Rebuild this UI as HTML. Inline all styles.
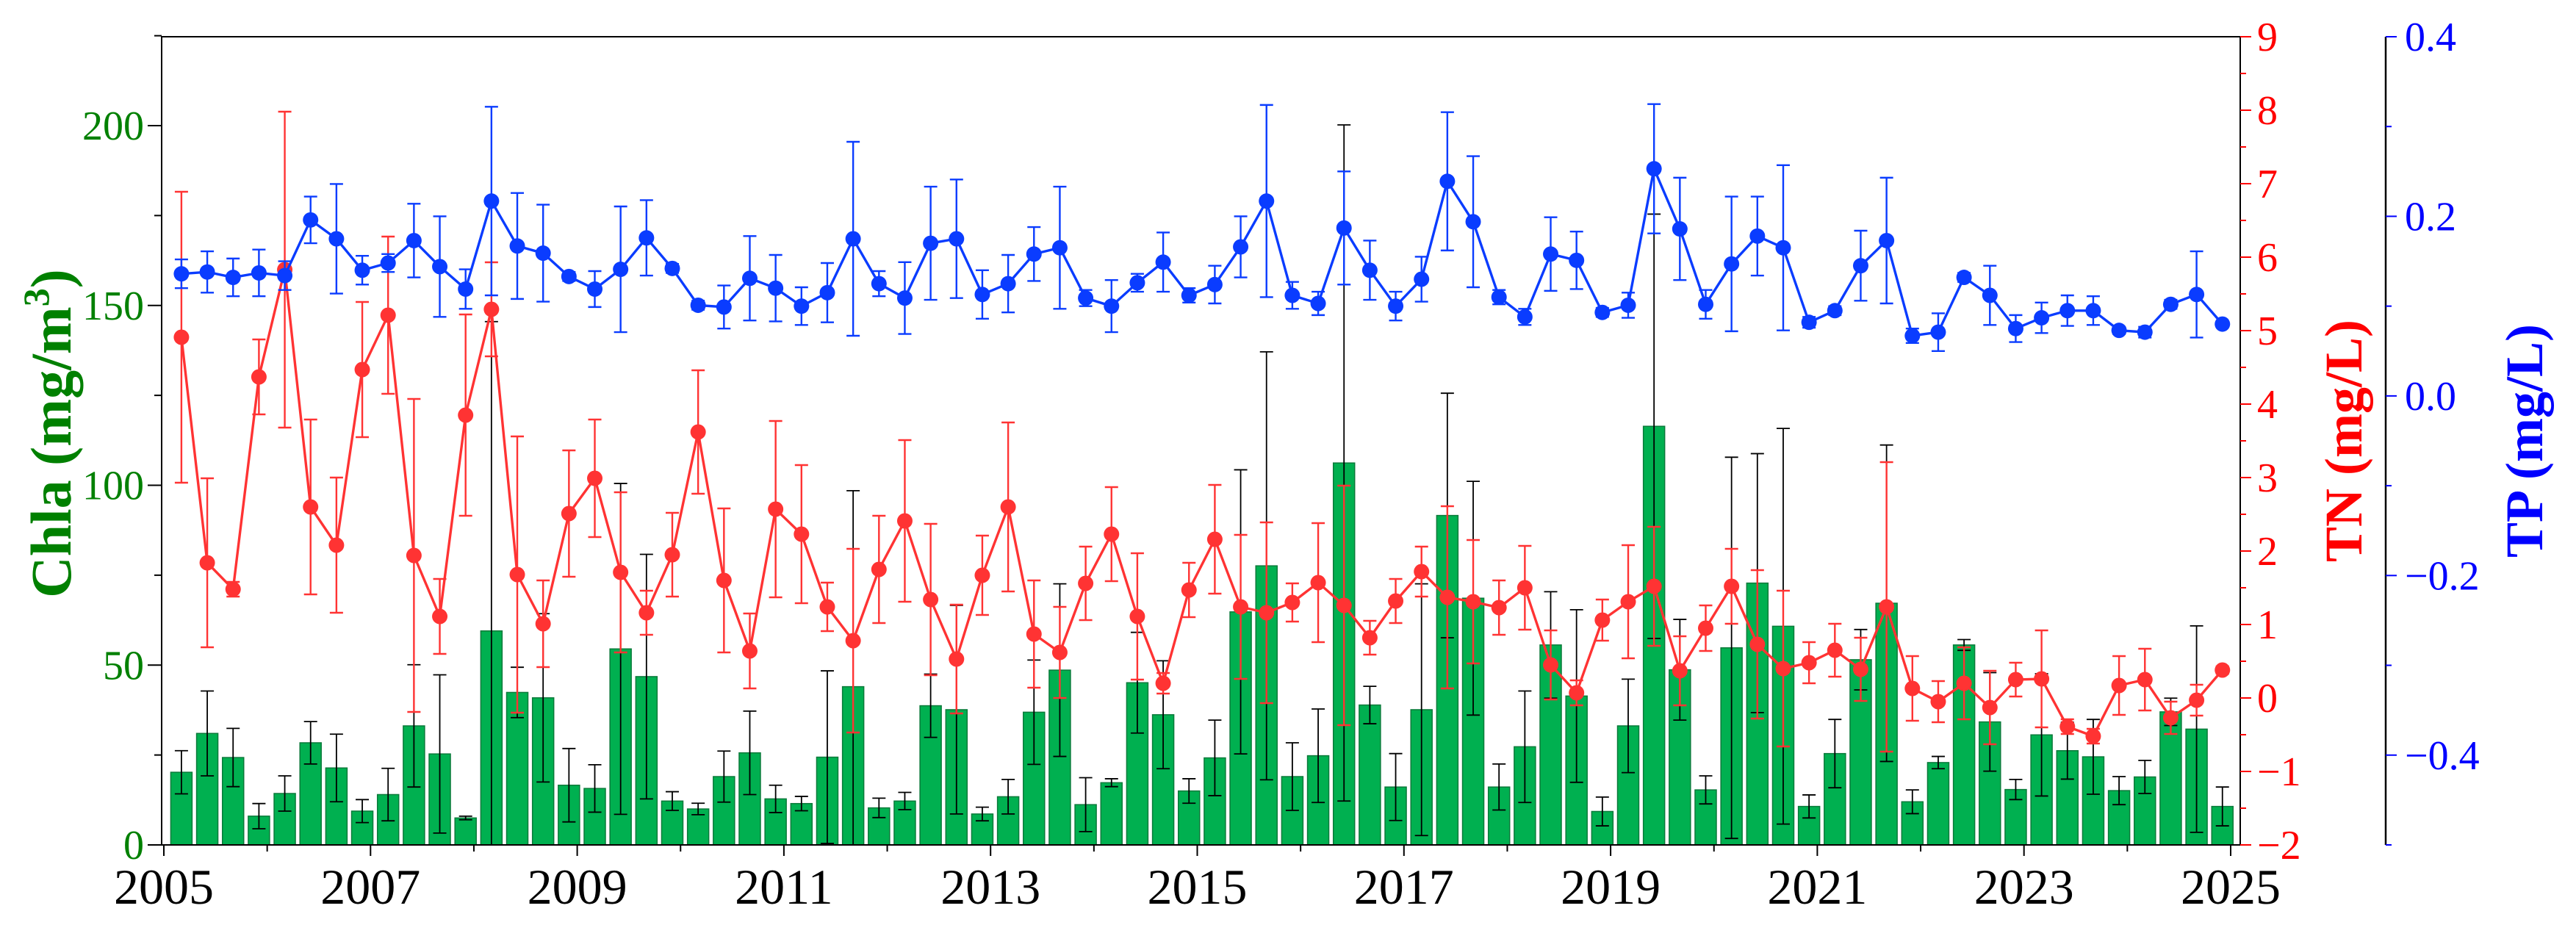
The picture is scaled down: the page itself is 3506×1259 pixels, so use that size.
<!DOCTYPE html>
<html><head><meta charset="utf-8"><style>
html,body{margin:0;padding:0;background:#fff;}
svg{display:block;font-family:"Liberation Serif",serif;}
</style></head>
<body>
<svg id="chart" xmlns="http://www.w3.org/2000/svg" width="3506" height="1259" viewBox="0 0 3506 1259">
<rect x="0" y="0" width="3506" height="1259" fill="#fff"/>
<g id="plot"></g>
<text transform="translate(96,590) rotate(-90)" text-anchor="middle" font-size="78" font-weight="bold" fill="#008000">Chla (mg/m<tspan font-size="50" dy="-30">3</tspan><tspan dy="30">)</tspan></text>
<text transform="translate(3214,600) rotate(-90)" text-anchor="middle" font-size="72" font-weight="bold" fill="#ff0000">TN (mg/L)</text>
<text transform="translate(3460,600) rotate(-90)" text-anchor="middle" font-size="72" font-weight="bold" fill="#0000ff">TP (mg/L)</text>
</svg>
<script>
const startYear = 2005.17;
const chla = [20.2,31,24.3,8,14.3,28.4,21.4,9.4,14,33.1,25.3,7.5,59.5,42.4,40.9,16.6,15.7,54.5,46.8,12.2,
10.0,19.0,25.6,12.8,11.5,24.4,44.0,10.3,12.2,38.7,37.6,8.6,13.4,36.9,48.6,11.2,17.3,45.1,36.2,15.0,
24.2,64.8,77.6,19.0,24.8,106.2,38.9,16.1,37.6,91.6,68.6,16.1,27.3,55.6,41.4,9.3,33.1,116.4,48.7,15.3,
54.8,72.8,60.8,10.7,25.4,51.5,67.2,12.0,22.9,55.6,34.2,15.4,30.6,26.2,24.5,15.1,18.9,37.0,32.2,10.7];
const chlaErr = [6,11.8,8.1,3.5,4.9,5.9,9.4,3.2,7.3,17,22,0.5,86,7,23.4,10.2,6.6,46,34,2.6,
1.6,7.1,11.6,3.8,2,24,54.5,2.7,2.4,8.8,29,1.9,4.8,14.5,24,7.5,1.1,14,15,3.4,
10.5,39.5,59.5,9.4,13,94,5.2,9.3,35,34,32.5,6.4,15.5,14.8,24,4,13,59,14,3.9,
53,36,55,3.2,9.5,8.4,44,3.3,1.7,1.5,13.7,2.8,17,7.9,10.4,3.9,4.6,3.8,28.7,5.4];
const tn = [4.91,1.84,1.48,4.37,5.83,2.6,2.08,4.47,5.21,1.94,1.11,3.85,5.29,1.68,1.01,2.51,2.99,1.71,1.16,1.95,
3.62,1.60,0.64,2.57,2.23,1.24,0.78,1.75,2.41,1.34,0.53,1.67,2.60,0.87,0.62,1.56,2.23,1.11,0.20,1.47,
2.16,1.24,1.16,1.30,1.57,1.26,0.82,1.32,1.72,1.37,1.31,1.23,1.50,0.45,0.07,1.06,1.31,1.52,0.37,0.95,
1.52,0.73,0.40,0.48,0.65,0.39,1.24,0.13,-0.05,0.20,-0.13,0.25,0.26,-0.39,-0.52,0.17,0.25,-0.27,-0.03,0.38];
const tnErr = [1.98,1.15,0.1,0.51,2.15,1.19,0.92,0.92,1.07,2.13,0.51,1.37,0.64,1.88,0.59,0.86,0.8,1.09,0.3,0.57,
0.84,0.98,0.51,1.2,0.94,0.33,1.25,0.73,1.1,1.03,0.74,0.54,1.15,0.73,0.62,0.5,0.64,0.86,0.14,0.37,
0.74,0.98,1.23,0.26,0.81,1.63,0.23,0.3,0.34,1.24,0.84,0.37,0.57,0.47,0.17,0.28,0.77,0.81,0.47,0.31,
0.51,1.01,1.06,0.28,0.36,0.43,1.97,0.44,0.28,0.49,0.5,0.23,0.66,0.1,0.1,0.4,0.42,0.22,0.21,0.05];
const tp = [0.136,0.138,0.132,0.137,0.134,0.196,0.175,0.140,0.148,0.173,0.144,0.119,0.217,0.167,0.159,0.133,0.119,0.141,0.176,0.142,
0.101,0.099,0.131,0.120,0.100,0.115,0.175,0.125,0.109,0.170,0.175,0.113,0.125,0.158,0.165,0.109,0.100,0.126,0.149,0.112,
0.124,0.166,0.217,0.112,0.103,0.187,0.140,0.100,0.130,0.239,0.194,0.110,0.088,0.158,0.151,0.093,0.101,0.253,0.186,0.102,
0.147,0.178,0.165,0.082,0.095,0.145,0.173,0.067,0.071,0.132,0.112,0.075,0.087,0.095,0.095,0.073,0.071,0.102,0.113,0.080];
const tpErr = [0.016,0.023,0.021,0.026,0.016,0.026,0.061,0.016,0.01,0.041,0.056,0.022,0.105,0.059,0.054,0.005,0.02,0.07,0.042,0.005,
0.005,0.024,0.047,0.037,0.021,0.033,0.108,0.014,0.04,0.063,0.066,0.027,0.032,0.03,0.068,0.009,0.029,0.01,0.033,0.008,
0.021,0.034,0.107,0.015,0.013,0.063,0.033,0.016,0.025,0.077,0.073,0.008,0.009,0.041,0.032,0.005,0.014,0.072,0.057,0.016,
0.075,0.044,0.092,0.006,0.005,0.039,0.07,0.008,0.021,0.005,0.033,0.015,0.017,0.017,0.016,0.004,0.006,0.005,0.048,0.003];
const xTickYears = [2005,2007,2009,2011,2013,2015,2017,2019,2021,2023,2025];
const chlaTicks = [0,50,100,150,200];
const tnTicks = [-2,-1,0,1,2,3,4,5,6,7,8,9];
const tpTicks = [0.4,0.2,0.0,-0.2,-0.4];
const tpTickLabels = ["0.4","0.2","0.0","\u22120.2","\u22120.4"];

const L=220,R=3049,T=50,B=1150,TPX=3247;
const xS = t => 223 + (t-2005)*140.65;
const yC = v => B - v*4.895;
const yN = v => T + (9-v)*100;
const yP = v => T + (0.4-v)*1222.2;
const NS="http://www.w3.org/2000/svg";
const g=document.getElementById('plot');
function mk(tag,attrs,parent){const e=document.createElementNS(NS,tag);for(const k in attrs)e.setAttribute(k,attrs[k]);(parent||g).appendChild(e);return e;}
const qt = i => startYear + 0.25*i;

chla.forEach((v,i)=>{
  const x=xS(qt(i));
  const r=mk('rect',{x:x-14.5,y:yC(v),width:29,height:B-yC(v),fill:'#00b050',stroke:'#0a7a3a','stroke-width':1.5});
  
  
});
chla.forEach((v,i)=>{
  const x=xS(qt(i)),y1=yC(v+chlaErr[i]),y2=yC(Math.max(0,v-chlaErr[i]));
  const p=mk('path',{d:`M${x},${y1}V${y2}M${x-9},${y1}H${x+9}M${x-9},${y2}H${x+9}`,stroke:'#000','stroke-width':1.8,fill:'none'});
  
  
});
const tnLine=mk('polyline',{points:tn.map((v,i)=>xS(qt(i))+','+yN(v)).join(' '),fill:'none',stroke:'#ff3333','stroke-width':3.4});


tn.forEach((v,i)=>{
  const x=xS(qt(i)),y1=yN(v+tnErr[i]),y2=yN(v-tnErr[i]);
  const p=mk('path',{d:`M${x},${y1}V${y2}M${x-9},${y1}H${x+9}M${x-9},${y2}H${x+9}`,stroke:'#ff3333','stroke-width':2.4,fill:'none'});
  
  
  const c=mk('circle',{cx:x,cy:yN(v),r:10.5,fill:'#ff3333'});
  
  
});
const tpLine=mk('polyline',{points:tp.map((v,i)=>xS(qt(i))+','+yP(v)).join(' '),fill:'none',stroke:'#0a3cff','stroke-width':3.4});


tp.forEach((v,i)=>{
  const x=xS(qt(i)),y1=yP(v+tpErr[i]),y2=yP(v-tpErr[i]);
  const p=mk('path',{d:`M${x},${y1}V${y2}M${x-9},${y1}H${x+9}M${x-9},${y2}H${x+9}`,stroke:'#0a3cff','stroke-width':2.4,fill:'none'});
  
  
  const c=mk('circle',{cx:x,cy:yP(v),r:10.5,fill:'#0a3cff'});
  
  
});
const fr=mk('path',{d:`M${L},${T}H${R}V${B}H${L}Z`,fill:'none',stroke:'#000','stroke-width':2});


for(let y=2005;y<=2025;y++){
  const x=xS(y);
  const t=mk('line',{x1:x,y1:B,x2:x,y2:B+(y%2?15:9),stroke:'#000','stroke-width':2});
  
  
}
xTickYears.forEach(y=>{
  const t=mk('text',{x:xS(y),y:1230,'text-anchor':'middle','font-size':68,fill:'#000'});
  t.textContent=y;
  
  
});
for(let v=0;v<=225;v+=25){
  const t=mk('line',{x1:L,y1:yC(v),x2:L-(v%50?10:19),y2:yC(v),stroke:'#000','stroke-width':2});
  
  
}
chlaTicks.forEach(v=>{
  const t=mk('text',{x:196,y:yC(v)+19,'text-anchor':'end','font-size':56,fill:'#008000'});
  t.textContent=v;
  
  
});
for(let v=-2;v<=9;v+=0.5){
  const t=mk('line',{x1:R,y1:yN(v),x2:R+(v%1?8:15),y2:yN(v),stroke:'#ff0000','stroke-width':2});
  
  
}
tnTicks.forEach(v=>{
  const t=mk('text',{x:3072,y:yN(v)+19,'text-anchor':'start','font-size':56,fill:'#ff0000'});
  t.textContent=v<0?'\u2212'+(-v):String(v);
  
  
});
const tpAx=mk('line',{x1:TPX,y1:T,x2:TPX,y2:B,stroke:'#000','stroke-width':2.5});


for(let k=0;k<=9;k++){
  const v=0.4-k*0.1;
  const t=mk('line',{x1:TPX,y1:yP(v),x2:TPX+(k%2?8:15),y2:yP(v),stroke:'#0000ff','stroke-width':2});
  
  
}
tpTicks.forEach((v,i)=>{
  const t=mk('text',{x:3273,y:yP(v)+19,'text-anchor':'start','font-size':56,fill:'#0000ff'});
  t.textContent=tpTickLabels[i];
  
  
});
</script>
</body></html>
